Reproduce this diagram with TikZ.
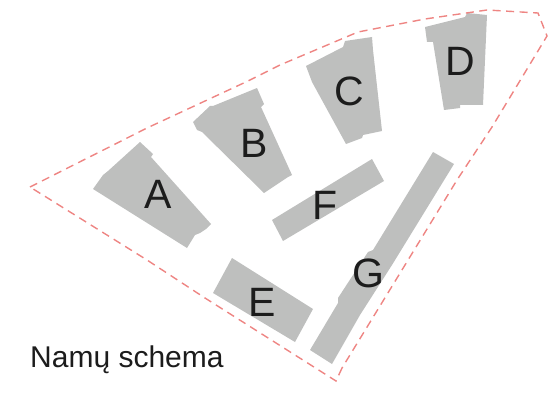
\documentclass[tikz,border=0pt]{standalone}
\usepackage{fontspec}
\setmainfont{Liberation Sans}
\definecolor{bldg}{HTML}{BEBFBE}
\definecolor{plotline}{HTML}{EE8583}
\definecolor{ink}{HTML}{1C1C1C}
\tikzset{
  building/.style={fill=bldg,draw=none},
  plot/.style={draw=plotline,line width=1.4pt,dash pattern=on 8pt off 5.5pt,line join=miter},
  letter/.style={text=ink,inner sep=0pt,font=\fontsize{41}{41}\selectfont},
  caption/.style={text=ink,inner sep=0pt,anchor=base west,font=\fontsize{30}{34}\selectfont}
}
\begin{document}
\begin{tikzpicture}[x=1pt,y=-1pt]
\useasboundingbox (0,0) rectangle (556,393);
% Buildings
\fill[building] (93,189)--(103,175)--(108,171)--(140,142)--(153,154)--(151,157)--(211,224)--(206,229)--(200,233)--(195,235)--(187,248)--cycle;
\fill[building] (193,122)--(210,106)--(213,106)--(257,88)--(264,104)--(261,107)--(292,175)--(288,177)--(264,193)--(202,132)--(197,130)--cycle;
\fill[building] (306,66)--(343,47)--(345,41)--(372,37)--(373,50)--(382,131)--(363,135)--(362,138)--(346,144)--(312,82)--cycle;
\fill[building] (425,27)--(465,17)--(467,13)--(487,15)--(483,105)--(460,105)--(460,108)--(444,110)--(433,42)--(427,42)--cycle;
\fill[building] (272,220)--(372,159)--(384,181)--(283,241)--cycle;
\fill[building] (433,152)--(454,164)--(392,265)--(360,315)--(332,364)--(310,350)--(338,303)--(338,298)--(368,252)--(373,250)--cycle;
\fill[building] (232,258)--(313,309)--(295,342)--(213,293)--cycle;
% Plot boundary
\draw[plot] (30,187)--(147,128)--(248,81)--(280,65)--(358,32)--(425,19)--(487,10)--(538,13)--(547,36)--(492,127)--(457,180)--(342,368);
\draw[plot] (342,368)--(336,381)--(205,298)--(147,260)--(30,187);
% Labels
\node[letter] (A) at (158,194) {A};
\node[letter] (B) at (254,143) {B};
\node[letter] (C) at (349,91) {C};
\node[letter] (D) at (460,61) {D};
\node[letter] (E) at (262,302) {E};
\node[letter] (F) at (325,205) {F};
\node[letter] (G) at (368,273) {G};
\node[caption] (cap) at (30,367) {Namų schema};
\end{tikzpicture}
\end{document}
